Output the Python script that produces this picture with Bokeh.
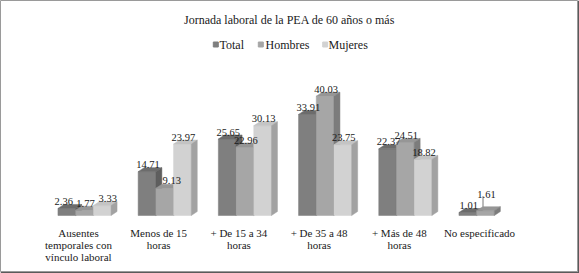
from bokeh.plotting import figure
from bokeh.models import Range1d
from bokeh.core.properties import value
from bokeh.embed import file_html
from bokeh.resources import INLINE

# ---------------- data ----------------
categories = ["Ausentes\ntemporales con\nvínculo laboral", "Menos de 15\nhoras",
              "+ De 15 a 34\nhoras", "+ De 35 a 48\nhoras", "+ Más de 48\nhoras",
              "No especificado"]
series_names = ["Total", "Hombres", "Mujeres"]
total = [2.36, 14.71, 25.65, 33.91, 22.37, 1.01]
hombres = [1.77, 9.13, 22.96, 40.03, 24.51, 1.61]
mujeres = [3.33, 23.97, 30.13, 23.75, 18.82, None]
title_text = "Jornada laboral de la PEA de 60 años o más"

# ---------------- style ----------------
FONT = "Liberation Serif"
front_colors = ["#7f7f7f", "#a6a6a6", "#d2d2d2"]
top_colors = ["#6c6c6c", "#969696", "#c4c4c4"]
side_colors = ["#5e5e5e", "#7c7c7c", "#a2a2a2"]
label_nudge_px = {(5, 1): (0, 9), (0, 0): (-4, 0), (0, 2): (4.5, 0), (1, 1): (6, 1)}

W, H = 579, 273
FW, FH = 577, 271
X0, SX = 37.9, 80.2
Y0, SY = 215.0, 2.98

def dx(px):
    return (px - X0) / SX

def dy(py):
    return (Y0 - py) / SY

p = figure(width=W, height=H, output_backend="svg", toolbar_location=None,
           x_range=Range1d(dx(0), dx(FW)), y_range=Range1d(dy(FH), dy(0)),
           min_border_left=0, min_border_top=0, min_border_right=2, min_border_bottom=2)
p.axis.visible = False
p.grid.visible = False
p.background_fill_color = "white"
p.border_fill_color = "#5a5a5a"
p.outline_line_color = "#9a9a9a"
p.outline_line_width = 1

bw = 17.7 / SX
off = 6.0 / SX
ddx = 6.0 / SX
ddy = 4.0 / SY

series = [total, hombres, mujeres]
lab_x, lab_y, lab_t = [], [], []
lead_x0, lead_y0, lead_x1, lead_y1 = [], [], [], []
for s, vals in enumerate(series):
    L, R, T = [], [], []
    txs, tys, sxs, sys_ = [], [], [], []
    for i, v in enumerate(vals):
        if v is None:
            continue
        xc = i + 0.5 + off + (s - 1) * bw
        xl, xr = xc - bw / 2, xc + bw / 2
        L.append(xl); R.append(xr); T.append(v)
        txs.append([xl, xr, xr + ddx, xl + ddx]); tys.append([v, v, v + ddy, v + ddy])
        sxs.append([xr, xr + ddx, xr + ddx, xr]); sys_.append([0, ddy, v + ddy, v])
        nx, ny = label_nudge_px.get((i, s), (0, 0))
        ly = v + ddy + (3 + ny) / SY
        lab_x.append(xc + (1.0 + nx) / SX); lab_y.append(ly); lab_t.append(f"{v:.2f}")
        if ny > 5:
            lead_x0.append(xc - 2.5 / SX); lead_x1.append(xc - 2.5 / SX)
            lead_y0.append(ly - 1.5 / SY); lead_y1.append(v + ddy)
    p.quad(left=L, right=R, bottom=[0] * len(L), top=T,
           fill_color=front_colors[s], line_color=front_colors[s], line_width=0.5)
    p.patches(xs=txs, ys=tys, fill_color=top_colors[s], line_color=top_colors[s], line_width=0.5)
    p.patches(xs=sxs, ys=sys_, fill_color=side_colors[s], line_color=side_colors[s], line_width=0.5)

p.segment(x0=lead_x0, y0=lead_y0, x1=lead_x1, y1=lead_y1, line_color="#555555", line_width=0.8)

p.text(x=lab_x, y=lab_y, text=lab_t, text_font=value(FONT), text_font_size="10.5px",
       text_align="center", text_baseline="alphabetic", text_color="#1a1a1a")

p.text(x=[i + 0.5 for i in range(len(categories))], y=[dy(226)] * len(categories),
       text=categories, text_font=value(FONT), text_font_size="11px",
       text_align="center", text_baseline="top", text_line_height=1.0, text_color="#1a1a1a")

p.text(x=[dx(289)], y=[dy(19)], text=[title_text], text_font=value(FONT),
       text_font_size="12px", text_align="center", text_baseline="middle", text_color="#1a1a1a")

mk_px = [215.3, 260.3, 324.7]
tx_px = [219.0, 265.0, 328.0]
p.scatter(x=[dx(v) for v in mk_px], y=[dy(44)] * 3, marker="square", size=5,
          fill_color=front_colors, line_color=front_colors)
p.text(x=[dx(v) for v in tx_px], y=[dy(44)] * 3, text=series_names, text_font=value(FONT),
       text_font_size="12px", text_align="left", text_baseline="middle", text_color="#1a1a1a")

open("out.html", "w").write(file_html(p, INLINE))
